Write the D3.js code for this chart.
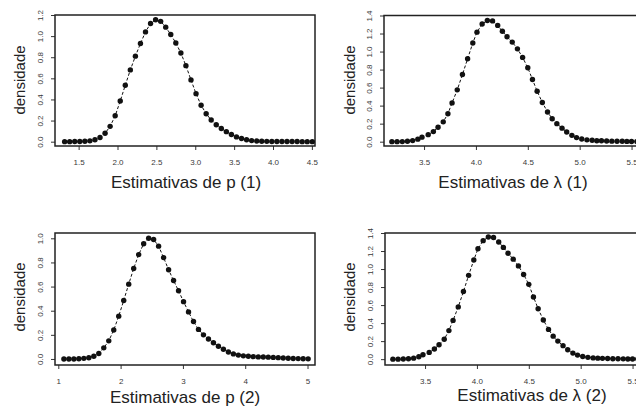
<!DOCTYPE html>
<html>
<head>
<meta charset="utf-8">
<script src="https://cdn.jsdelivr.net/npm/d3@7"></script>
<style>
  body { margin: 0; background: #fff; }
  svg { display: block; }
  .tick text { font-family: "Liberation Sans", Arial, sans-serif; font-size: 8px; fill: #3a3a3a; }
  .lab { font-family: "Liberation Sans", Arial, sans-serif; fill: #222; }
</style>
</head>
<body>
<div id="viz"></div>
<script>
// densidade de p (1)
const p1X = [1.32, 1.385, 1.45, 1.515, 1.58, 1.645, 1.71, 1.775, 1.84, 1.905, 1.97, 2.035, 2.10, 2.165, 2.23, 2.295, 2.36, 2.425, 2.49, 2.555,
  2.62, 2.685, 2.75, 2.815, 2.88, 2.945, 3.01, 3.075, 3.14, 3.205, 3.27, 3.335, 3.40, 3.465, 3.53, 3.595, 3.66, 3.725, 3.79, 3.855,
  3.92, 3.985, 4.05, 4.115, 4.18, 4.245, 4.31, 4.375, 4.44, 4.505];
const p1Y = [0.000, 0.000, 0.001, 0.002, 0.004, 0.008, 0.018, 0.040, 0.080, 0.145, 0.245, 0.385, 0.535, 0.680, 0.810, 0.930, 1.040, 1.120, 1.155, 1.140,
  1.085, 1.015, 0.935, 0.840, 0.720, 0.585, 0.455, 0.345, 0.265, 0.205, 0.160, 0.125, 0.095, 0.068, 0.045, 0.030, 0.018, 0.010, 0.006, 0.004,
  0.003, 0.002, 0.002, 0.002, 0.001, 0.001, 0.001, 0.000, 0.000, 0.000];

// densidade de lambda (1)
const l1X = [3.19, 3.24, 3.29, 3.34, 3.39, 3.44, 3.48, 3.54, 3.59, 3.635, 3.685, 3.73, 3.77, 3.82, 3.87, 3.92, 3.97, 4.01, 4.06, 4.11,
  4.16, 4.21, 4.255, 4.30, 4.35, 4.40, 4.45, 4.50, 4.545, 4.59, 4.64, 4.69, 4.735, 4.78, 4.83, 4.875, 4.925, 4.97, 5.02, 5.07,
  5.12, 5.165, 5.21, 5.26, 5.31, 5.36, 5.41, 5.455, 5.50, 5.55];
const l1Y = [0.000, 0.000, 0.001, 0.004, 0.012, 0.028, 0.050, 0.078, 0.112, 0.160, 0.220, 0.310, 0.430, 0.575, 0.745, 0.920, 1.095, 1.215, 1.305, 1.345,
  1.340, 1.290, 1.225, 1.165, 1.105, 1.030, 0.935, 0.820, 0.690, 0.560, 0.435, 0.330, 0.255, 0.200, 0.150, 0.108, 0.070, 0.045, 0.030, 0.020,
  0.015, 0.011, 0.010, 0.008, 0.006, 0.005, 0.004, 0.003, 0.002, 0.001];

// densidade de p (2)
const p2X = [1.09, 1.17, 1.25, 1.33, 1.41, 1.49, 1.57, 1.65, 1.73, 1.81, 1.89, 1.97, 2.05, 2.13, 2.21, 2.29, 2.37, 2.45, 2.53, 2.61,
  2.69, 2.77, 2.85, 2.93, 3.01, 3.09, 3.17, 3.25, 3.33, 3.41, 3.49, 3.57, 3.65, 3.73, 3.81, 3.89, 3.97, 4.05, 4.13, 4.21,
  4.29, 4.37, 4.45, 4.53, 4.61, 4.69, 4.77, 4.85, 4.93, 5.01];
const p2Y = [0.000, 0.000, 0.000, 0.002, 0.005, 0.010, 0.022, 0.045, 0.092, 0.150, 0.240, 0.355, 0.485, 0.620, 0.750, 0.865, 0.955, 1.000, 0.990, 0.935,
  0.840, 0.740, 0.650, 0.565, 0.475, 0.390, 0.310, 0.245, 0.200, 0.165, 0.135, 0.105, 0.080, 0.058, 0.042, 0.032, 0.026, 0.022, 0.019, 0.017,
  0.016, 0.015, 0.013, 0.011, 0.008, 0.006, 0.004, 0.003, 0.002, 0.001];

// densidade de lambda (2)
const l2X = l1X;
const l2Y = [0.000, 0.000, 0.001, 0.004, 0.011, 0.026, 0.048, 0.075, 0.112, 0.160, 0.220, 0.317, 0.430, 0.580, 0.750, 0.930, 1.100, 1.225, 1.315, 1.355,
  1.350, 1.300, 1.240, 1.175, 1.110, 1.035, 0.940, 0.830, 0.690, 0.560, 0.435, 0.330, 0.255, 0.200, 0.150, 0.105, 0.067, 0.045, 0.030, 0.020,
  0.014, 0.011, 0.009, 0.007, 0.005, 0.004, 0.003, 0.002, 0.001, 0.001];

const pTicks1 = [1.5, 2.0, 2.5, 3.0, 3.5, 4.0, 4.5];
const pTicks2 = [1, 2, 3, 4, 5];
const lTicks = [3.5, 4.0, 4.5, 5.0, 5.5];
const yTicks12 = [0, 0.2, 0.4, 0.6, 0.8, 1.0, 1.2];
const yTicks14 = [0, 0.2, 0.4, 0.6, 0.8, 1.0, 1.2, 1.4];
const yTicks10 = [0, 0.2, 0.4, 0.6, 0.8, 1.0];

const W = 636, H = 408;
const svg = d3.select('#viz').append('svg').attr('width', W).attr('height', H);

const panels = [
  { xs: p1X, ys: p1Y, box: [55, 15, 315, 146], xd: [1.196, 4.54], yd: [-0.041, 1.2], xt: pTicks1, yt: yTicks12, xf: '.1f',
    ylab: [20, 80], xlab: [186, 188], title: 'Estimativas de p (1)' },
  { xs: l1X, ys: l1Y, box: [384, 15.5, 644, 146], xd: [3.114, 5.62], yd: [-0.048, 1.4], xt: lTicks, yt: yTicks14, xf: '.1f',
    ylab: [350, 80], xlab: [513, 188], title: 'Estimativas de  λ (1)' },
  { xs: p2X, ys: p2Y, box: [55, 233, 315, 365], xd: [0.947, 5.12], yd: [-0.05, 1.044], xt: pTicks2, yt: yTicks10, xf: 'd',
    ylab: [20, 297], xlab: [185, 403], title: 'Estimativas de p (2)' },
  { xs: l2X, ys: l2Y, box: [385, 233, 645, 365], xd: [3.114, 5.62], yd: [-0.065, 1.4], xt: lTicks, yt: yTicks14, xf: '.1f',
    ylab: [350, 297], xlab: [532, 401], title: 'Estimativas de  λ (2)' },
];

panels.forEach(p => {
  const [x0, y0, x1, y1] = p.box;
  const x = d3.scaleLinear().domain(p.xd).range([x0, x1]);
  const y = d3.scaleLinear().domain(p.yd).range([y1, y0]);
  const g = svg.append('g');

  // eixo x
  const ax = g.append('g').attr('transform', `translate(0,${y1})`)
    .call(d3.axisBottom(x).tickValues(p.xt).tickFormat(d3.format(p.xf)).tickSize(4).tickPadding(9));
  ax.select('.domain').remove();
  ax.selectAll('.tick line').attr('stroke', '#333');

  // eixo y, rotulos rodados
  const ay = g.append('g').attr('transform', `translate(${x0},0)`)
    .call(d3.axisLeft(y).tickValues(p.yt).tickFormat(d3.format('.1f')).tickSize(4));
  ay.select('.domain').remove();
  ay.selectAll('.tick line').attr('stroke', '#333');
  ay.selectAll('.tick text')
    .attr('transform', 'rotate(-90)')
    .attr('x', 0).attr('y', -12).attr('dy', 0)
    .attr('text-anchor', 'middle');

  // caixa
  g.append('rect').attr('x', x0).attr('y', y0).attr('width', x1 - x0).attr('height', y1 - y0)
    .attr('fill', 'none').attr('stroke', '#222').attr('stroke-width', 1.5);

  const pts = p.xs.map((v, i) => [v, p.ys[i]]);
  g.append('path').datum(pts)
    .attr('d', d3.line().x(d => x(d[0])).y(d => y(d[1])))
    .attr('fill', 'none').attr('stroke', '#111').attr('stroke-width', 1).attr('stroke-dasharray', '3,2');
  g.selectAll('circle').data(pts).join('circle')
    .attr('cx', d => x(d[0])).attr('cy', d => y(d[1])).attr('r', 2.7).attr('fill', '#111');

  g.append('text').attr('class', 'lab').style('font-size', '15px')
    .attr('transform', `translate(${p.ylab[0]},${p.ylab[1]}) rotate(-90)`)
    .attr('text-anchor', 'middle').attr('dy', '0.35em').text('densidade');
  g.append('text').attr('class', 'lab').style('font-size', '17px')
    .attr('x', p.xlab[0]).attr('y', p.xlab[1])
    .attr('text-anchor', 'middle').text(p.title);
});
</script>
</body>
</html>
